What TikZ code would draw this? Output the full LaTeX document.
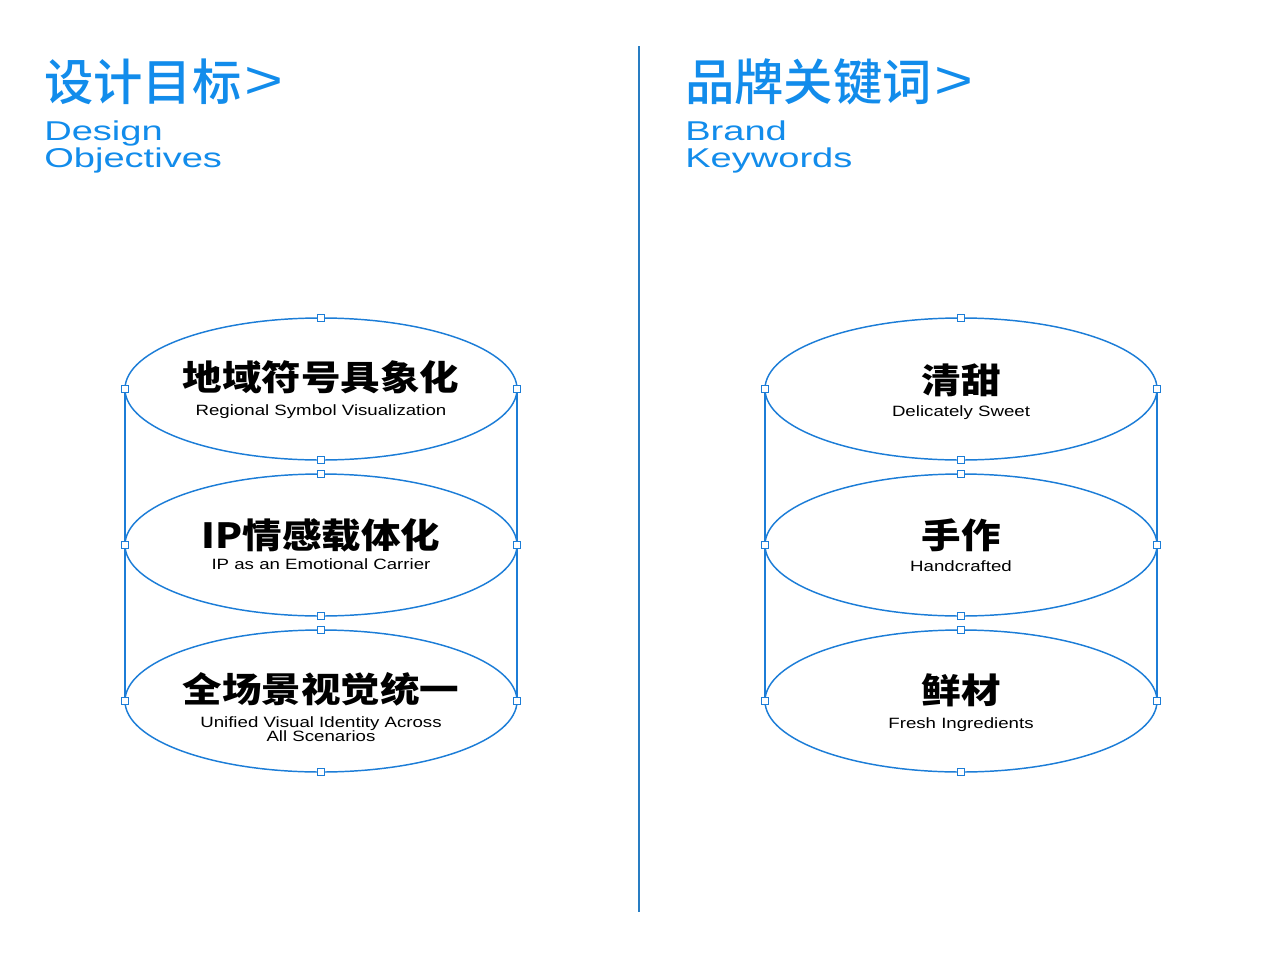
\documentclass[tikz,border=0pt]{standalone}
\usepackage{fontspec}
\usetikzlibrary{shapes.geometric}
\setmainfont{Liberation Sans}
\newfontfamily\cjkb{Noto Sans CJK SC}[FakeStretch=1.14]
\newfontfamily\cjkh{Noto Sans CJK SC Medium}
\newfontfamily\latH{Liberation Sans}[FakeStretch=1.4]
\newfontfamily\latS{Liberation Sans}[FakeStretch=1.25]
\definecolor{brand}{RGB}{18,140,235}
\definecolor{edge}{RGB}{28,125,215}
\definecolor{divcol}{RGB}{40,125,195}
\tikzset{
  disc/.style={draw=edge, line width=1.1pt, ellipse, minimum width=294pt, minimum height=106.5pt, inner sep=0pt, outer sep=0pt},
  handle/.style={draw=edge, fill=white, line width=0.8pt, minimum size=4.6pt, inner sep=0pt, outer sep=0pt, rectangle},
  side/.style={draw=edge, line width=1.1pt},
  cjktitle/.style={anchor=west, inner sep=0pt, text=brand, font=\cjkh\fontsize{37}{37}\selectfont},
  chev/.style={anchor=west, inner sep=0pt, text=brand, font=\latS\fontsize{40}{40}\selectfont},
  entitle/.style={anchor=base west, inner sep=0pt, text=brand, font=\latH\fontsize{20.4}{20.4}\selectfont},
  cjklabel/.style={inner sep=0pt, text=black, font=\cjkb\bfseries\fontsize{26}{26}\selectfont},
  enlabel/.style={anchor=base, inner sep=0pt, text=black, font=\latS\fontsize{11.2}{11.2}\selectfont},
}
\begin{document}
\begin{tikzpicture}[x=0.75pt, y=-0.75pt]
\useasboundingbox (0,0) rectangle (1280,960);
% divider
\coordinate (dtop) at (639,46);
\coordinate (dbot) at (639,912);
\draw[divcol, line width=1.6pt] (dtop) -- (dbot);
% headers
\node[cjktitle] (h1) at (44,82) {设计目标};
\node[chev] (h1c) at (244,83) {>};
\node[entitle] (h1a) at (44,140) {Design};
\node[entitle] (h1b) at (44,167) {Objectives};
\node[cjktitle] (h2) at (685,82) {品牌关键词};
\node[chev] (h2c) at (934,83) {>};
\node[entitle] (h2a) at (685,140) {Brand};
\node[entitle] (h2b) at (685,167) {Keywords};
% left cylinder
\node[disc] (l1) at (321,389) {};
\node[disc] (l2) at (321,545) {};
\node[disc] (l3) at (321,701) {};
\draw[side] (l1.west) -- (l3.west);
\draw[side] (l1.east) -- (l3.east);
% right cylinder
\node[disc] (r1) at (961,389) {};
\node[disc] (r2) at (961,545) {};
\node[disc] (r3) at (961,701) {};
\draw[side] (r1.west) -- (r3.west);
\draw[side] (r1.east) -- (r3.east);
% handles
\foreach \e in {l1,l2,l3,r1,r2,r3}{
  \foreach \a in {north,south,east,west}{
    \node[handle] at (\e.\a) {};
  }
}
% labels left
\node[cjklabel] (lt1) at (321,377.5) {地域符号具象化};
\node[enlabel] (ls1) at (321,415) {Regional Symbol Visualization};
\node[cjklabel] (lt2) at (321,535) {IP情感载体化};
\node[enlabel] (ls2) at (321,569) {IP as an Emotional Carrier};
\node[cjklabel] (lt3) at (321,689.5) {全场景视觉统一};
\node[enlabel] (ls3a) at (321,727) {Unified Visual Identity Across};
\node[enlabel] (ls3b) at (321,741) {All Scenarios};
% labels right
\node[cjklabel] (rt1) at (961,380) {清甜};
\node[enlabel] (rs1) at (961,416) {Delicately Sweet};
\node[cjklabel] (rt2) at (961,535) {手作};
\node[enlabel] (rs2) at (961,571) {Handcrafted};
\node[cjklabel] (rt3) at (961,690) {鲜材};
\node[enlabel] (rs3) at (961,728) {Fresh Ingredients};
\end{tikzpicture}
\end{document}
